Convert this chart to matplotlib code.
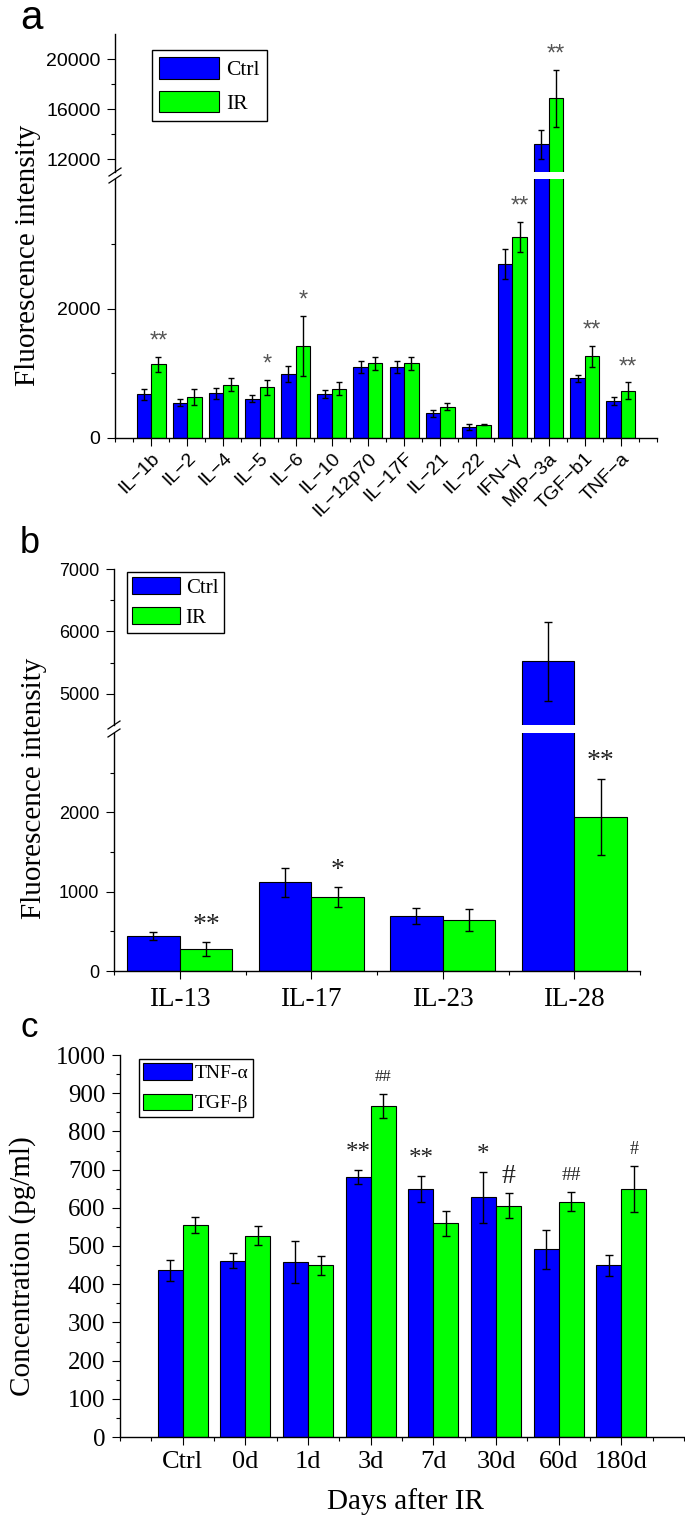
import numpy as np
import matplotlib
matplotlib.use('Agg')
import matplotlib.pyplot as plt
from matplotlib.ticker import MultipleLocator, FixedLocator
from matplotlib.lines import Line2D

plt.rcParams['font.family'] = 'serif'
plt.rcParams['font.serif'] = ['Liberation Serif', 'DejaVu Serif']
plt.rcParams['font.sans-serif'] = ['Liberation Sans', 'DejaVu Sans']

# ---- data ----
# panel a
cyto_a = ['IL\u22121b', 'IL\u22122', 'IL\u22124', 'IL\u22125', 'IL\u22126', 'IL\u221210',
          'IL\u221212p70', 'IL\u221217F', 'IL\u221221', 'IL\u221222', 'IFN\u2212\u03b3',
          'MIP\u22123a', 'TGF\u2212b1', 'TNF\u2212a']
ctrl_a = [677, 548, 693, 610, 992, 677, 1100, 1100, 382, 165, 2682, 13217, 920, 568]
ctrl_a_err = [85, 57, 85, 60, 120, 60, 95, 95, 57, 47, 230, 1150, 50, 60]
ir_a = [1136, 630, 822, 780, 1415, 760, 1157, 1157, 486, 207, 3104, 16866, 1260, 733]
ir_a_err = [115, 125, 100, 120, 465, 100, 100, 100, 60, 10, 233, 2300, 166, 125]
sig_a = ['**', '', '', '*', '*', '', '', '', '', '', '**', '**', '**', '**']

# panel b
cyto_b = ['IL-13', 'IL-17', 'IL-23', 'IL-28']
ctrl_b = [438, 1119, 694, 5519]
ctrl_b_err = [50, 180, 106, 638]
ir_b = [277, 934, 639, 1942]
ir_b_err = [90, 121, 139, 484]
sig_b = ['**', '*', '', '**']

# panel c
days = ['Ctrl', '0d', '1d', '3d', '7d', '30d', '60d', '180d']
tnf = [436, 462, 458, 681, 649, 628, 491, 449]
tnf_err = [27, 19, 54, 18, 35, 67, 50, 28]
tgf = [556, 527, 449, 867, 559, 606, 616, 649]
tgf_err = [21, 25, 24, 32, 32, 32, 25, 60]
sig_tnf = ['', '', '', '**', '**', '*', '', '']
sig_tgf = ['', '', '', '##', '', '#', '##', '#']
sig_tgf_size = [0, 0, 0, 12, 0, 20, 14, 13]

BLUE = '#0000ff'
GREEN = '#00ff00'
W, H = 685, 1519

fig = plt.figure(figsize=(W / 100, H / 100), dpi=100)


def box(l, t, r, b):
    return [l / W, 1 - b / H, (r - l) / W, (b - t) / H]


def draw_bars(ax, x, v1, e1, v2, e2, capsize=2.5):
    b1 = ax.bar(x - 0.2, v1, 0.4, color=BLUE, edgecolor='black', linewidth=0.8)
    b2 = ax.bar(x + 0.2, v2, 0.4, color=GREEN, edgecolor='black', linewidth=0.8)
    ax.errorbar(x - 0.2, v1, yerr=e1, fmt='none', ecolor='black', elinewidth=1,
                capsize=capsize, capthick=1)
    ax.errorbar(x + 0.2, v2, yerr=e2, fmt='none', ecolor='black', elinewidth=1,
                capsize=capsize, capthick=1)
    return b1, b2


def style(ax, labelsize, bottom=True):
    for s in ['top', 'right']:
        ax.spines[s].set_visible(False)
    ax.spines['left'].set_linewidth(1)
    if bottom:
        ax.spines['bottom'].set_linewidth(1)
    else:
        ax.spines['bottom'].set_visible(False)
        ax.tick_params(axis='x', which='both', bottom=False, labelbottom=False)
    ax.tick_params(which='major', direction='out', length=5.5, width=0.8,
                   labelsize=labelsize, pad=5)
    ax.tick_params(which='minor', direction='out', length=3, width=0.8)


def break_marks(ax_lo, ax_hi):
    # slanted marks across the broken y axis
    x0 = ax_lo.get_position().x0
    ylo = ax_lo.get_position().y1
    yhi = ax_hi.get_position().y0
    dx, dy = 6 / W, 4 / H
    for yy in [ylo, yhi]:
        fig.add_artist(Line2D([x0 - dx, x0 + dx], [yy - dy, yy + dy], color='black',
                              lw=0.9, transform=fig.transFigure))


def annotate(ax_list, xs, tops, labels, offset, size, color, family, sizes=None):
    for i, (x, t, s) in enumerate(zip(xs, tops, labels)):
        if not s:
            continue
        for ax in ax_list:
            lo, hi = ax.get_ylim()
            if lo <= t <= hi:
                ax.annotate(s, (x, t), xytext=(0, offset), textcoords='offset points',
                            ha='center', va='center', color=color, family=family,
                            fontsize=sizes[i] if sizes else size, annotation_clip=False)
                break


# ---------------- panel a ----------------
xa = np.arange(len(cyto_a))
ax_a_lo = fig.add_axes(box(115, 179, 657, 438))
ax_a_hi = fig.add_axes(box(115, 34, 657, 172))
for ax in (ax_a_lo, ax_a_hi):
    h = draw_bars(ax, xa, ctrl_a, ctrl_a_err, ir_a, ir_a_err, capsize=2.5)
    ax.set_xlim(-1, 14)
ax_a_lo.set_ylim(0, 4000)
ax_a_hi.set_ylim(11000, 22000)
style(ax_a_lo, 14)
style(ax_a_hi, 14, bottom=False)
ax_a_lo.yaxis.set_major_locator(FixedLocator([0, 2000]))
ax_a_lo.yaxis.set_minor_locator(FixedLocator([1000, 3000]))
ax_a_hi.yaxis.set_major_locator(FixedLocator([12000, 16000, 20000]))
ax_a_hi.yaxis.set_minor_locator(FixedLocator([14000, 18000]))
for ax in (ax_a_lo, ax_a_hi):
    for lab in ax.get_yticklabels():
        lab.set_family('sans-serif')
ax_a_lo.set_xticks(xa)
ax_a_lo.xaxis.set_minor_locator(MultipleLocator(0.5))
ax_a_lo.set_xticklabels(cyto_a, rotation=45, ha='right', rotation_mode='anchor',
                        family='sans-serif', fontsize=14)
ax_a_lo.tick_params(axis='x', which='major', pad=3)
break_marks(ax_a_lo, ax_a_hi)
tops_a = [v + e for v, e in zip(ir_a, ir_a_err)]
annotate([ax_a_lo, ax_a_hi], xa + 0.2, tops_a, sig_a, 11, 17, '#555555', 'sans-serif')
ax_a_hi.legend(h, ['Ctrl', 'IR'], loc='upper left',
               bbox_to_anchor=(152 / W, 1 - 50 / H), bbox_transform=fig.transFigure,
               borderaxespad=0, fontsize=15.5, handlelength=2.8, handleheight=1.16,
               labelspacing=0.5, borderpad=0.33, handletextpad=0.33,
               fancybox=False, framealpha=1, edgecolor='black')
ax_a_hi.get_legend().get_frame().set_linewidth(1)
fig.text(28 / W, 1 - 255 / H, 'Fluorescence intensity', rotation=90, ha='center',
         va='center', fontsize=21)
fig.text(20 / W, 1 - 29 / H, 'a', family='sans-serif', fontsize=29, va='baseline')

# ---------------- panel b ----------------
xb = np.arange(len(cyto_b))
ax_b_lo = fig.add_axes(box(114, 733, 640, 971))
ax_b_hi = fig.add_axes(box(114, 569, 640, 725))
for ax in (ax_b_lo, ax_b_hi):
    h = draw_bars(ax, xb, ctrl_b, ctrl_b_err, ir_b, ir_b_err, capsize=3)
    ax.set_xlim(-0.5, 3.5)
ax_b_lo.set_ylim(0, 3000)
ax_b_hi.set_ylim(4500, 7000)
style(ax_b_lo, 13)
style(ax_b_hi, 13, bottom=False)
ax_b_lo.yaxis.set_major_locator(FixedLocator([0, 1000, 2000]))
ax_b_lo.yaxis.set_minor_locator(FixedLocator([500, 1500, 2500]))
ax_b_hi.yaxis.set_major_locator(FixedLocator([5000, 6000, 7000]))
ax_b_hi.yaxis.set_minor_locator(FixedLocator([5500, 6500]))
for ax in (ax_b_lo, ax_b_hi):
    for lab in ax.get_yticklabels():
        lab.set_family('sans-serif')
ax_b_lo.set_xticks(xb)
ax_b_lo.xaxis.set_minor_locator(MultipleLocator(0.5))
ax_b_lo.set_xticklabels(cyto_b, fontsize=19.5)
ax_b_lo.tick_params(axis='x', which='major', pad=6)
break_marks(ax_b_lo, ax_b_hi)
tops_b = [v + e for v, e in zip(ir_b, ir_b_err)]
annotate([ax_b_lo, ax_b_hi], xb + 0.2, tops_b, sig_b, 12, 20, '#222222', 'serif')
ax_b_hi.legend(h, ['Ctrl', 'IR'], loc='upper left',
               bbox_to_anchor=(127 / W, 1 - 572 / H), bbox_transform=fig.transFigure,
               borderaxespad=0, fontsize=15, handlelength=2.26, handleheight=0.87,
               labelspacing=0.43, borderpad=0.26, handletextpad=0.3,
               fancybox=False, framealpha=1, edgecolor='black')
ax_b_hi.get_legend().get_frame().set_linewidth(1)
fig.text(34 / W, 1 - 788 / H, 'Fluorescence intensity', rotation=90, ha='center',
         va='center', fontsize=21)
fig.text(20 / W, 1 - 553 / H, 'b', family='sans-serif', fontsize=26, va='baseline')

# ---------------- panel c ----------------
xc = np.arange(len(days))
ax_c = fig.add_axes(box(120, 1055, 684, 1437))
h = draw_bars(ax_c, xc, tnf, tnf_err, tgf, tgf_err, capsize=3.2)
ax_c.set_xlim(-1, 8)
ax_c.set_ylim(0, 1000)
style(ax_c, 18)
ax_c.yaxis.set_major_locator(MultipleLocator(100))
ax_c.yaxis.set_minor_locator(MultipleLocator(50))
ax_c.set_xticks(xc)
ax_c.xaxis.set_minor_locator(MultipleLocator(0.5))
ax_c.set_xticklabels(days, fontsize=19)
ax_c.tick_params(axis='x', which='major', pad=4.5)
tops_tnf = [v + e for v, e in zip(tnf, tnf_err)]
tops_tgf = [v + e for v, e in zip(tgf, tgf_err)]
annotate([ax_c], xc - 0.2, tops_tnf, sig_tnf, 12, 18, '#222222', 'serif')
annotate([ax_c], xc + 0.2, tops_tgf, sig_tgf, 12, 14, '#222222', 'serif',
         sizes=sig_tgf_size)
ax_c.legend(h, ['TNF-\u03b1', 'TGF-\u03b2'], loc='upper left',
            bbox_to_anchor=(139 / W, 1 - 1059 / H), bbox_transform=fig.transFigure,
            borderaxespad=0, fontsize=14, handlelength=2.5, handleheight=0.93,
            labelspacing=0.57, borderpad=0.23, handletextpad=0.15,
            fancybox=False, framealpha=1, edgecolor='black')
ax_c.get_legend().get_frame().set_linewidth(1)
fig.text(23 / W, 1 - 1266 / H, 'Concentration (pg/ml)', rotation=90, ha='center',
         va='center', fontsize=21)
fig.text(405 / W, 1 - 1509 / H, 'Days after IR', ha='center', va='baseline',
         fontsize=21)
fig.text(20 / W, 1 - 1037 / H, 'c', family='sans-serif', fontsize=25, va='baseline')

fig.savefig('out.png', dpi=100)
